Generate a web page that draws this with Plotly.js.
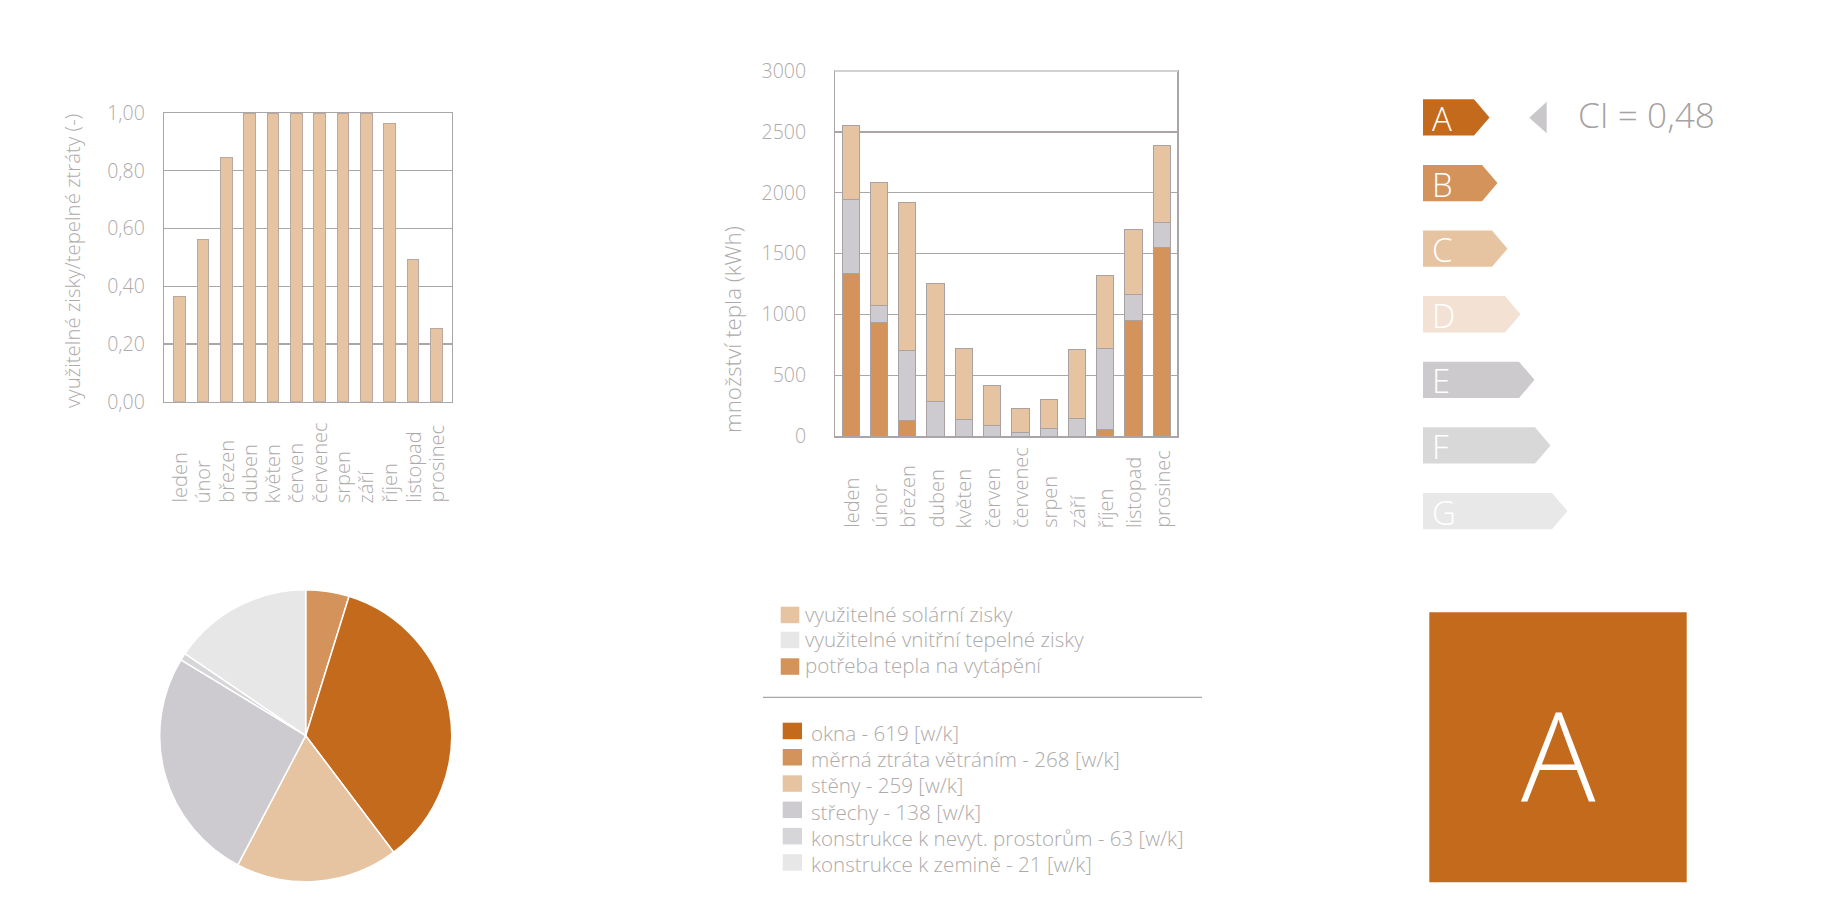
<!DOCTYPE html>
<html>
<head>
<meta charset="utf-8">
<script src="https://cdn.plot.ly/plotly-3.0.1.min.js"></script>
<style>html,body{margin:0;padding:0;background:#fff}#chart{width:1847px;height:919px}</style>
</head>
<body>
<div id="chart"></div>
<script>
// ---------- DATA ----------
const months = ['leden','únor','březen','duben','květen','červen','červenec','srpen','září','říjen','listopad','prosinec'];
const utilization = [0.366,0.562,0.846,1.0,1.0,1.0,1.0,1.0,1.0,0.963,0.491,0.253];
const heatDemand    = [1338,933,126,0,0,0,0,0,0,57,955,1552];
const internalGains = [610,139,577,284,142,87,33,66,148,665,211,207];
const solarGains    = [608,1013,1218,975,580,328,199,238,563,602,534,630];
const stackLegend = ['využitelné solární zisky','využitelné vnitřní tepelné zisky','potřeba tepla na vytápění'];
const lossNames  = ['okna','měrná ztráta větráním','stěny','střechy','konstrukce k nevyt. prostorům','konstrukce k zemině'];
const lossValues = [619,268,259,138,63,21];
const pieLabels = ['měrná ztráta větráním','okna','stěny','střechy','konstrukce k nevyt. prostorům','konstrukce k zemině'];
const pieShares = [4.8,34.9,18.0,26.0,0.8,15.5];
const energyClasses = ['A','B','C','D','E','F','G'];
const ciText = 'CI = 0,48';
const ratedClass = 'A';

// ---------- STYLE ----------
const W = 1847, H = 919;
const X = p => p / W;
const Y = p => 1 - p / H;
const FONT = '"Open Sans", "Noto Sans", sans-serif';
const WT = 300;
const TXT = '#aeaaaa';
const LINE = '#aaa6a7';
const COL = {dark:'#c46a1c', mid:'#d4935a', light:'#e6c4a2', grey:'#cdcbcf', grey2:'#d6d5d7', grey3:'#e7e7e7'};
const stackLegendColors = [COL.light, COL.grey3, COL.mid];
const lossColors = [COL.dark, COL.mid, COL.light, COL.grey, COL.grey2, COL.grey3];
const pieColors = [COL.mid, COL.dark, COL.light, COL.grey, COL.grey2, COL.grey3];
const classColors = ['#c46a1c','#d4935a','#e6c4a2','#f3e2d3','#cccacc','#d9d8d9','#e8e8e8'];
const classBodyWidths = [51, 59, 69, 82, 96, 112, 129];
const f = (size, color) => ({family:FONT, size, color, weight:WT});

const traces = [];
traces.push({type:'bar', x: months, y: utilization, xaxis:'x', yaxis:'y', width:0.5,
  marker:{color:COL.light, line:{color:'#b8a89f', width:1}}, hoverinfo:'skip', showlegend:false});
[[heatDemand, COL.mid, stackLegend[2]],[internalGains, COL.grey, stackLegend[1]],[solarGains, COL.light, stackLegend[0]]].forEach(([vals,c,n])=>{
  traces.push({type:'bar', x: months, y: vals, xaxis:'x2', yaxis:'y2', width:0.61, name:n,
    marker:{color:c, line:{color:'#aaa2a2', width:1}}, hoverinfo:'skip', showlegend:false});
});
const pcx = 305.7, pcy = 735.7, pr = 146;
traces.push({type:'pie', values: pieShares, labels: pieLabels, sort:false, direction:'clockwise', rotation:0,
  marker:{colors: pieColors, line:{color:'#ffffff', width:1.5}}, textinfo:'none', hoverinfo:'none', showlegend:false,
  domain:{x:[X(pcx-pr), X(pcx+pr)], y:[Y(pcy+pr), Y(pcy-pr)]}});

const annotations = [];
const shapes = [];
function txt(x, y, text, size, color, xanchor, extra){
  annotations.push(Object.assign({xref:'paper', yref:'paper', x:X(x), y:Y(y), text, showarrow:false,
    xanchor: xanchor || 'center', yanchor:'middle', font:f(size, color)}, extra||{}));
}

// axis titles
txt(72, 261, 'využitelné zisky/tepelné ztráty (-)', 20.4, TXT, 'center', {textangle:-90});
txt(733, 330, 'množství tepla (kWh)', 22.3, TXT, 'center', {textangle:-90});

// month labels (bottom aligned)
months.forEach(m=>{
  annotations.push({xref:'x', yref:'paper', x:m, y:Y(505), xanchor:'center', yanchor:'bottom', text:m, textangle:-90, showarrow:false,
    font:f(20, TXT)});
  annotations.push({xref:'x2', yref:'paper', x:m, y:Y(530), xanchor:'center', yanchor:'bottom', text:m, textangle:-90, showarrow:false,
    font:f(20, TXT)});
});

// legend 1
const l1Top = [606.7, 631.7, 658.3];
stackLegend.forEach((t,i)=>{
  shapes.push({type:'rect', xref:'paper', yref:'paper', x0:X(780.7), x1:X(799.3), y0:Y(l1Top[i]), y1:Y(l1Top[i]+16.5),
    fillcolor: stackLegendColors[i], line:{width:0}});
  txt(803, l1Top[i]+7, t, 20.6, TXT, 'left');
});
shapes.push({type:'line', xref:'paper', yref:'paper', x0:X(763), x1:X(1202), y0:Y(697.3), y1:Y(697.3), line:{color:LINE, width:1.3}});
// legend 2
lossNames.forEach((n,i)=>{
  const top = 722.7 + i*26.3;
  shapes.push({type:'rect', xref:'paper', yref:'paper', x0:X(782.7), x1:X(802), y0:Y(top), y1:Y(top+16.5),
    fillcolor: lossColors[i], line:{width:0}});
  txt(809, top+10, n+' - '+lossValues[i]+' [w/k]', 20.6, TXT, 'left');
});

// energy class arrows
energyClasses.forEach((c,i)=>{
  const top = 99.3 + i*65.6, h = 36.3, left = 1423, right = left + classBodyWidths[i], tip = right + 15.5;
  const path = `M ${X(left)},${Y(top)} L ${X(right)},${Y(top)} L ${X(tip)},${Y(top+h/2)} L ${X(right)},${Y(top+h)} L ${X(left)},${Y(top+h)} Z`;
  shapes.push({type:'path', xref:'paper', yref:'paper', path, fillcolor: classColors[i], line:{width:0}});
  txt(1430, top+h/2+1, c, 33, '#ffffff', 'left');
});
shapes.push({type:'path', xref:'paper', yref:'paper',
  path:`M ${X(1529.3)},${Y(117.7)} L ${X(1546.7)},${Y(101.7)} L ${X(1546.7)},${Y(133.3)} Z`, fillcolor:'#c9c7ca', line:{width:0}});
txt(1576, 114, ciText, 35.2, '#a6a2a3', 'left');

shapes.push({type:'rect', xref:'paper', yref:'paper', x0:X(1429.3), x1:X(1686.7), y0:Y(882.3), y1:Y(612.3),
  fillcolor: classColors[energyClasses.indexOf(ratedClass)], line:{width:0}});
txt(1558, 752, ratedClass, 124, '#ffffff', 'center');

// lighter top border on the stacked chart
shapes.push({type:'line', xref:'paper', yref:'paper', layer:'above', x0:X(834.6), x1:X(1178), y0:Y(71), y1:Y(71), line:{color:'#d3d1d2', width:2}});

const axBase = {showline:true, mirror:true, linecolor:LINE, linewidth:1.3, zeroline:false, fixedrange:true};
const layout = {
  width:W, height:H, margin:{l:0,r:0,t:0,b:0}, paper_bgcolor:'#ffffff', plot_bgcolor:'#ffffff',
  separators:', ', barmode:'stack', showlegend:false, font:{family:FONT, color:TXT, weight:WT},
  xaxis: Object.assign({}, axBase, {domain:[X(164), X(452)], anchor:'y', type:'category', showticklabels:false, showgrid:false, ticks:''}),
  yaxis: Object.assign({}, axBase, {domain:[Y(401.7), Y(113)], anchor:'x', range:[0,1], dtick:0.2, tickformat:'.2f',
    showgrid:true, gridcolor:LINE, gridwidth:1.3, ticks:'', ticklabelstandoff:14, tickfont:f(19.5, TXT)}),
  xaxis2: Object.assign({}, axBase, {domain:[X(835.3), X(1177.3)], anchor:'y2', type:'category', showticklabels:false, showgrid:false, ticks:''}),
  yaxis2: Object.assign({}, axBase, {domain:[Y(436.3), Y(71)], anchor:'x2', range:[0,3000], dtick:500, tickformat:'d',
    showgrid:true, gridcolor:LINE, gridwidth:1.3, ticks:'', ticklabelstandoff:24, tickfont:f(19.5, TXT)}),
  shapes, annotations
};
Plotly.newPlot('chart', traces, layout, {staticPlot:true, displayModeBar:false});
</script>
</body>
</html>
